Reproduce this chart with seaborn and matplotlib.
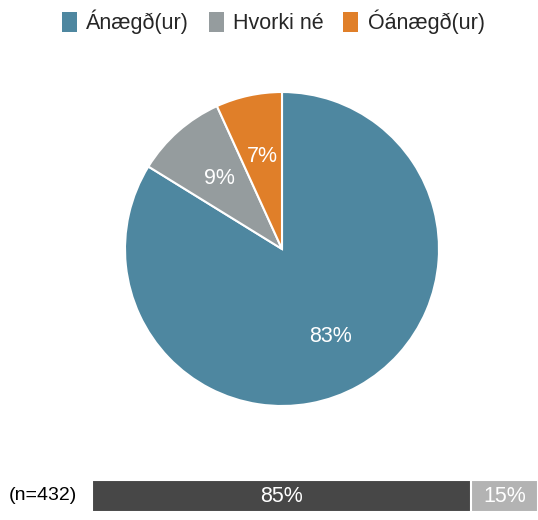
#%% Packages
import numpy as np
import matplotlib
matplotlib.use("Agg")
import matplotlib.pyplot as plt
from matplotlib.patches import Patch
import seaborn as sns

#%% Data
categories = ["Ánægð(ur)", "Hvorki né", "Óánægð(ur)"]
shares = [83.8, 9.4, 6.8]
pie_labels = ["83%", "9%", "7%"]
pie_colors = ["#4e87a0", "#959c9e", "#e07f29"]

bar_values = [85, 15]
bar_labels = ["85%", "15%"]
bar_colors = ["#474747", "#b3b3b3"]
n_label = "(n=432)"

#%% Style
sns.set_theme(style="white")
plt.rcParams["font.family"] = ["Liberation Sans", "DejaVu Sans"]
FS = 15.5

fig = plt.figure(figsize=(5.38, 5.2), dpi=100)

#%% Pie
ax = fig.add_axes([125 / 538, 1 - 406 / 520, 314 / 538, 314 / 520])
# clockwise from 12 o'clock
ax.pie(shares, colors=pie_colors, startangle=90, counterclock=False, radius=1,
       wedgeprops=dict(edgecolor="white", linewidth=1.5))
ang0 = 90.0
for val, lab in zip(shares, pie_labels):
    mid = np.deg2rad(ang0 - val / 100 * 360 / 2)
    ang0 -= val / 100 * 360
    r = 0.64 if val > 50 else 0.6
    ax.text(r * np.cos(mid), r * np.sin(mid), lab, ha="center", va="center",
            color="white", fontsize=FS)
ax.set_xlim(-1, 1)
ax.set_ylim(-1, 1)
ax.set_aspect("equal")
ax.axis("off")

#%% Legend
handles = [Patch(facecolor=c, edgecolor="none") for c in pie_colors]
fig.legend(handles, categories, loc="center", bbox_to_anchor=(0.508, 1 - 22 / 520),
           ncol=3, frameon=False, fontsize=FS, handlelength=0.7, handleheight=1.1,
           handletextpad=0.45, columnspacing=0.9)

#%% Bottom bar
bax = fig.add_axes([92 / 538, 8 / 520, 446 / 538, 32 / 520])
sns.barplot(x=[sum(bar_values)], y=[0], orient="h", color=bar_colors[1], width=1,
            ax=bax, edgecolor="white", linewidth=1.5)
sns.barplot(x=[bar_values[0]], y=[0], orient="h", color=bar_colors[0], width=1,
            ax=bax, edgecolor="white", linewidth=1.5)
bax.set_xlim(0, 100)
bax.set_ylim(0.5, -0.5)
left = 0
for val, lab in zip(bar_values, bar_labels):
    bax.text(left + val / 2, 0, lab, ha="center", va="center", color="white", fontsize=FS)
    left += val
bax.axis("off")
fig.text(77 / 538, 1 - 496 / 520, n_label, ha="right", va="center", fontsize=14,
         color="black")

fig.savefig("out.png", dpi=100)
